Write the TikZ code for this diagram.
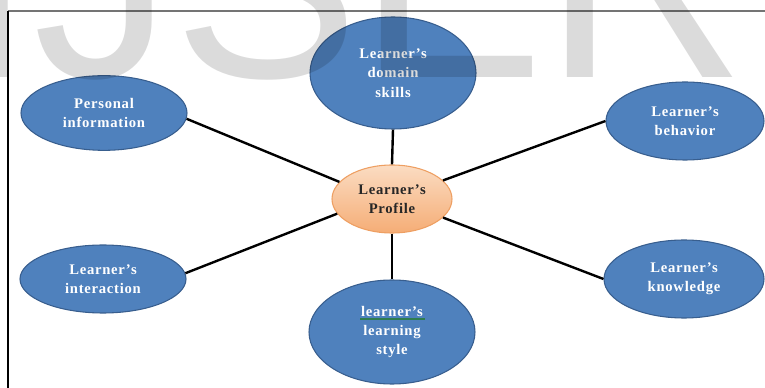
\documentclass[tikz,border=0pt]{standalone}
\usepackage{fontspec}
\setmainfont{Liberation Serif}
\newfontfamily\marksans{Liberation Sans}
\usetikzlibrary{shapes.geometric}

\definecolor{leafblue}{HTML}{4F81BD}
\definecolor{leafedge}{HTML}{385E8E}
\definecolor{hubtop}{HTML}{FBDCC2}
\definecolor{hubbottom}{HTML}{F5AD76}
\definecolor{hubedge}{HTML}{EE9F62}
\definecolor{framegray}{HTML}{747474}
\definecolor{checkgreen}{HTML}{2E7D4F}

\newcommand{\labelfont}{\fontsize{11pt}{14.5pt}\selectfont\bfseries\addfontfeature{LetterSpace=5}}

\tikzset{
  leaf/.style={ellipse, draw=leafedge, line width=0.8pt, fill=leafblue,
    text=white, inner sep=0pt, align=center, font=\labelfont},
  hub/.style={ellipse, draw=hubedge, line width=0.8pt,
    top color=hubtop, bottom color=hubbottom,
    text=black!85, inner sep=0pt, align=center, font=\labelfont},
  spoke/.style={line width=1.8pt, draw=black},
}

\begin{document}
\begin{tikzpicture}[x=0.75pt, y=-0.75pt]
\useasboundingbox (0,0) rectangle (765,388);
\begin{scope}
\clip (0,0) rectangle (765,388);

% page frame: grey rule on top, black rule on the left
\coordinate (ftl) at (8,11);
\coordinate (ftr) at (765,11);
\coordinate (fbl) at (8,388);
\draw[framegray, line width=1.5pt] (ftl) -- (ftr);
\draw[black, line width=1pt] (ftl) -- (fbl);

% nodes
\node[hub, minimum width=90pt, minimum height=51pt] (profile) at (392,199) {Learner's\\Profile};
\node[leaf, minimum width=124.5pt, minimum height=84pt] (domain) at (393,73) {Learner's\\domain\\skills};
\node[leaf, minimum width=124.5pt, minimum height=56pt] (personal) at (104,113) {Personal\\information};
\node[leaf, minimum width=118.5pt, minimum height=58.5pt] (behavior) at (685,121) {Learner's\\behavior};
\node[leaf, minimum width=124.5pt, minimum height=51pt] (interaction) at (103,279) {Learner's\\interaction};
\node[leaf, minimum width=120pt, minimum height=58.5pt] (knowledge) at (684,279) {Learner's\\knowledge};
\node[leaf, minimum width=124.5pt, minimum height=78pt] (style) at (392,332) {learner's\\learning\\style};

% spokes from the profile to each facet
\draw[spoke] (profile.north) -- (domain.south);
\draw[spoke] (profile.south) -- (style.north);
\draw[spoke] (profile.162) -- (personal.-4);
\draw[spoke] (profile.20) -- (behavior.180);
\draw[spoke] (profile.195) -- (interaction.4);
\draw[spoke] (profile.-20) -- (knowledge.180);

% proofing underline below the first word of the style node
\coordinate (ulA) at (360,319);
\coordinate (ulB) at (425,319);
\draw[checkgreen, line width=0.8pt] (ulA) -- (ulB);

% watermark lettering across the top
\node[anchor=base west, inner sep=0pt, text=black, text opacity=0.14,
      font=\marksans\fontsize{209pt}{209pt}\selectfont] (mark) at (-44,78) {IJSER};
\end{scope}
\end{tikzpicture}
\end{document}
